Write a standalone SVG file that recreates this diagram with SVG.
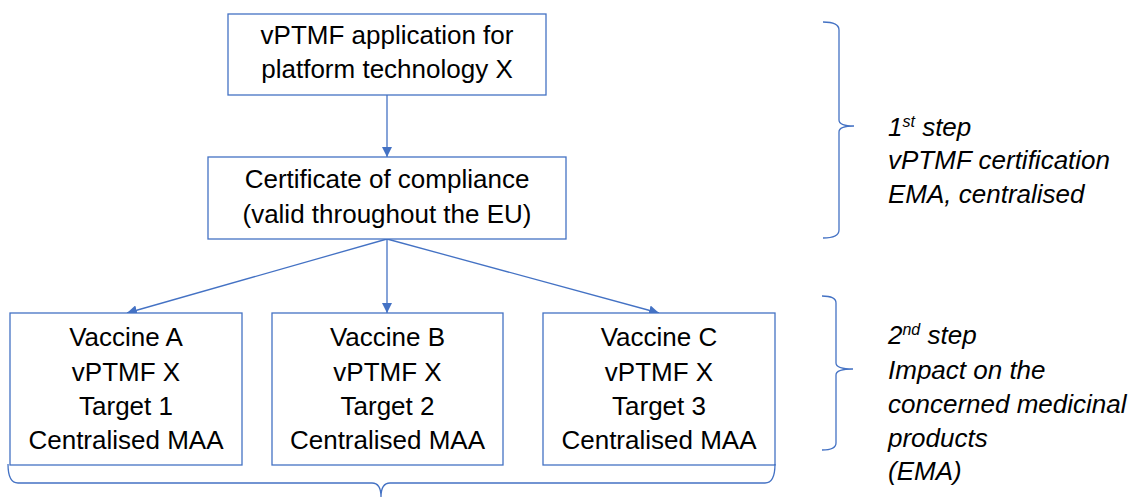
<svg xmlns="http://www.w3.org/2000/svg" width="1131" height="499" viewBox="0 0 1131 499">
<defs>
<style>
.box{fill:#fff;stroke:#4472C4;stroke-width:1.3}
.t{font-family:"Liberation Sans",Arial,sans-serif;font-size:26px;fill:#000;text-anchor:middle}
.lab{font-family:"Liberation Sans",Arial,sans-serif;font-size:26px;font-style:italic;fill:#000}
.sup{font-size:16px}
.ln{fill:none;stroke:#4472C4;stroke-width:1.3}
</style>
<marker id="ah" viewBox="0 0 10 10" refX="10" refY="5" markerWidth="10" markerHeight="10" markerUnits="userSpaceOnUse" orient="auto">
<path d="M0,0 L10,5 L0,10 z" fill="#4472C4"/>
</marker>
</defs>
<rect width="1131" height="499" fill="#fff"/>
<g id="connectors">
<line class="ln" x1="387" y1="95" x2="387" y2="157" marker-end="url(#ah)"/>
<line class="ln" x1="387" y1="239" x2="127" y2="313" marker-end="url(#ah)"/>
<line class="ln" x1="387" y1="239" x2="387" y2="313" marker-end="url(#ah)"/>
<line class="ln" x1="387" y1="239" x2="659" y2="313" marker-end="url(#ah)"/>
</g>
<g id="node-application">
<rect class="box" x="228" y="14" width="318" height="81"/>
<text class="t" x="387" y="44">vPTMF application for</text>
<text class="t" x="387" y="78">platform technology X</text>
</g>
<g id="node-certificate">
<rect class="box" x="208" y="157" width="358" height="82"/>
<text class="t" x="387" y="188">Certificate of compliance</text>
<text class="t" x="387" y="223">(valid throughout the EU)</text>
</g>
<g id="node-vaccine-a">
<rect class="box" x="10" y="313" width="232" height="152"/>
<text class="t" x="126" y="346">Vaccine A</text>
<text class="t" x="126" y="381">vPTMF X</text>
<text class="t" x="126" y="415">Target 1</text>
<text class="t" x="126" y="449">Centralised MAA</text>
</g>
<g id="node-vaccine-b">
<rect class="box" x="272" y="313" width="231" height="152"/>
<text class="t" x="387.5" y="346">Vaccine B</text>
<text class="t" x="387.5" y="381">vPTMF X</text>
<text class="t" x="387.5" y="415">Target 2</text>
<text class="t" x="387.5" y="449">Centralised MAA</text>
</g>
<g id="node-vaccine-c">
<rect class="box" x="543" y="313" width="232" height="152"/>
<text class="t" x="659" y="346">Vaccine C</text>
<text class="t" x="659" y="381">vPTMF X</text>
<text class="t" x="659" y="415">Target 3</text>
<text class="t" x="659" y="449">Centralised MAA</text>
</g>
<g id="brace-bottom">
<path class="ln" d="M8,464 Q8,483 18,483 L372,483 Q381,483 381,497 Q381,483 390,483 L765,483 Q775,483 775,464"/>
</g>
<g id="brace-step1">
<path class="ln" d="M823,22 Q839,22 839,30 L839,120 Q839,126 854,126 Q839,126 839,132 L839,230 Q839,238 823,238"/>
</g>
<g id="brace-step2">
<path class="ln" d="M822,296 Q836,296 836,303 L836,363 Q836,369 853,369 Q836,369 836,375 L836,443 Q836,450 822,450"/>
</g>
<g id="label-step1">
<text class="lab" x="888" y="136">1<tspan class="sup" dy="-9">st</tspan><tspan dy="9"> step</tspan></text>
<text class="lab" x="888" y="169">vPTMF certification</text>
<text class="lab" x="888" y="203">EMA, centralised</text>
</g>
<g id="label-step2">
<text class="lab" x="888" y="344">2<tspan class="sup" dy="-9">nd</tspan><tspan dy="9"> step</tspan></text>
<text class="lab" x="888" y="379">Impact on the</text>
<text class="lab" x="888" y="413">concerned medicinal</text>
<text class="lab" x="888" y="447">products</text>
<text class="lab" x="888" y="480">(EMA)</text>
</g>
</svg>
